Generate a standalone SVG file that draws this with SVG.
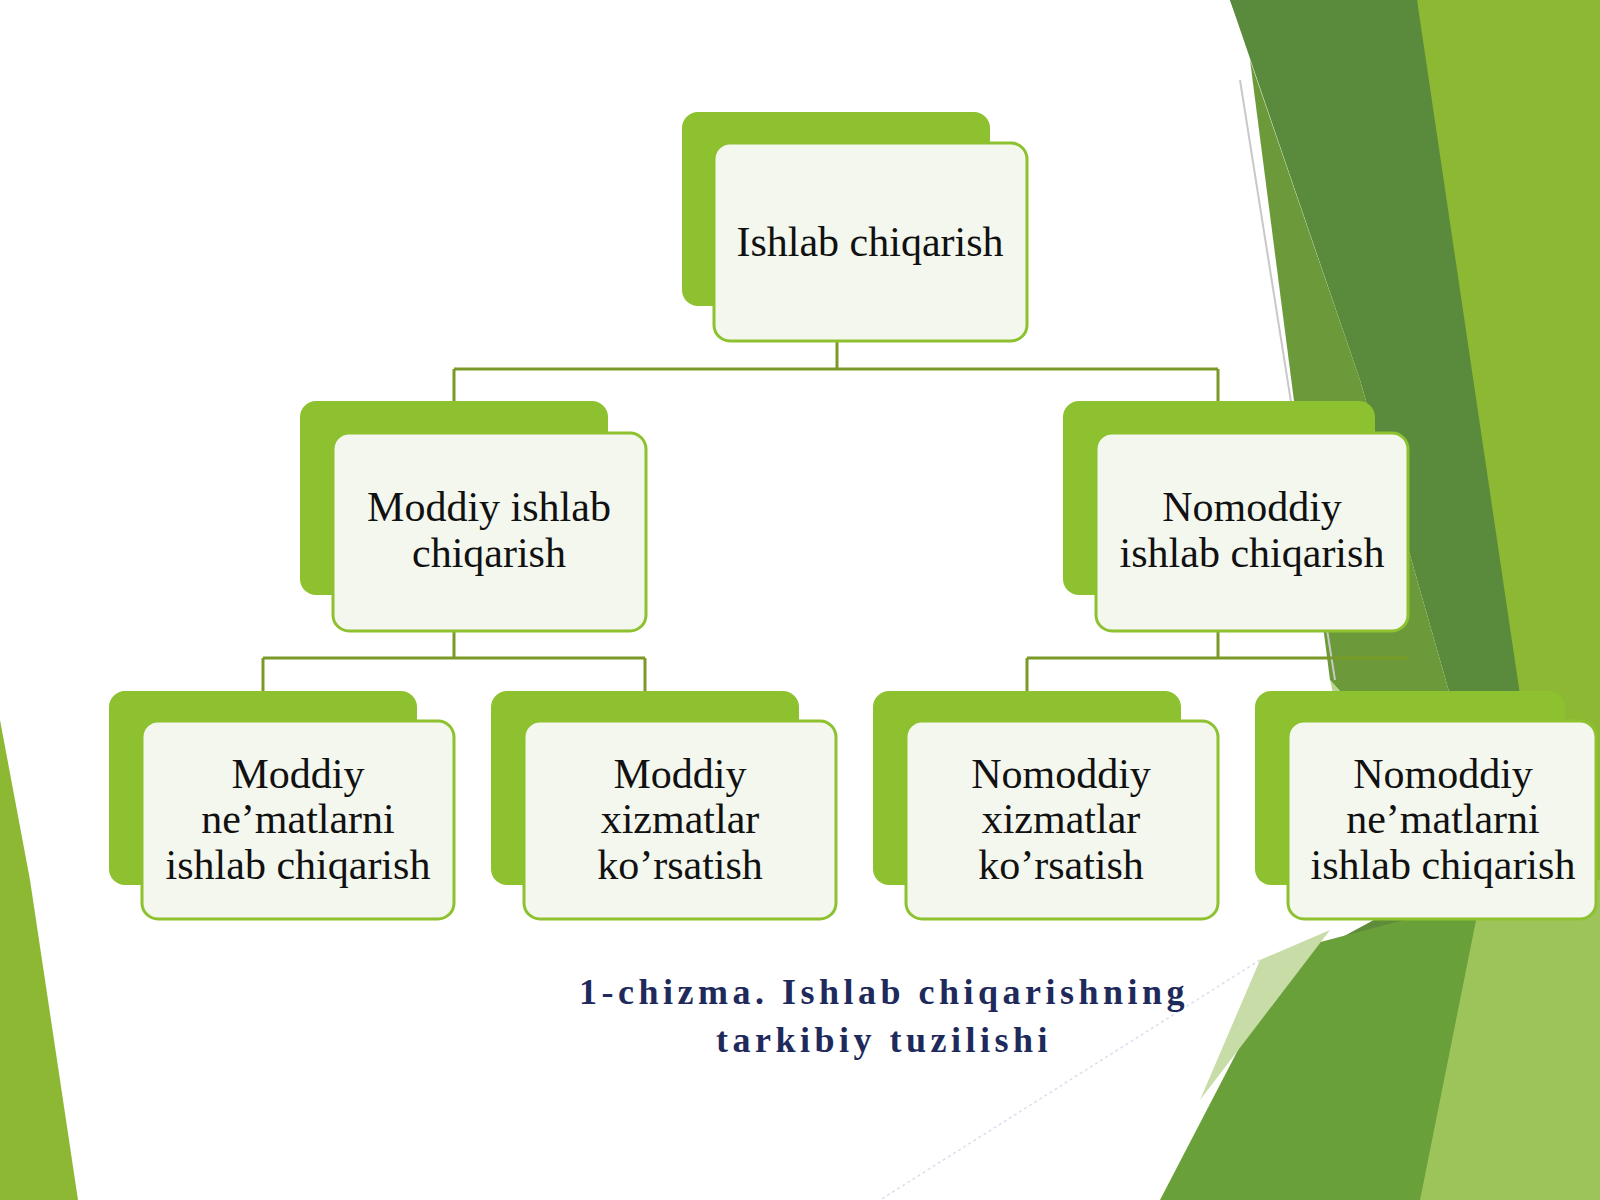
<svg xmlns="http://www.w3.org/2000/svg" width="1600" height="1200" viewBox="0 0 1600 1200">
<style>
.b{fill:#8dc12f}
.f{fill:#f4f7ee;stroke:#8dc12f;stroke-width:3}
.t{font-family:"Liberation Serif",serif;font-size:42px;fill:#111;text-anchor:middle}
.c{fill:none;stroke:#7a9a28;stroke-width:3}
.cap{font-family:"Liberation Serif",serif;font-size:36px;font-weight:bold;fill:#1f2a5c;text-anchor:middle;letter-spacing:4.5px}
</style>
<rect width="1600" height="1200" fill="#fff"/>
<g id="bg">
<polygon points="1230,0 1600,0 1600,1200 1180,1200 1300,960 1540,830" fill="#5e8c3a"/>
<polygon points="1417,0 1600,0 1600,1200 1500,1200 1500,870" fill="#8cb833"/>
<polygon points="1230,0 1417,0 1540,830 1500,870 1360,380" fill="#5a8a3c"/>
<polygon points="1250,60 1360,380 1500,870 1330,680" fill="#6c9a3a"/>
<polygon points="1330,680 1500,870 1380,900" fill="#b8d68a"/>
<polygon points="1290,950 1480,900 1420,1200 1160,1200" fill="#6aa03a"/>
<polygon points="1480,900 1600,880 1600,1200 1420,1200" fill="#9cc45a"/>
<polygon points="1260,960 1330,930 1200,1100" fill="#c8dca8"/>
<polygon points="0,720 30,880 78,1200 0,1200" fill="#8cb833"/>
<line x1="1240" y1="80" x2="1335" y2="680" stroke="#c8c8c8" stroke-width="2"/>
<line x1="1260" y1="960" x2="880" y2="1200" stroke="#dde" stroke-width="1.5" stroke-dasharray="3,3"/>
</g>
<g id="connectors">
<path class="c" d="M837 341V369M454 369H1218M454 369V401M1218 369V401"/>
<path class="c" d="M454 631V658M263 658H645M263 658V691M645 658V691"/>
<path class="c" d="M1218 631V658M1027 658H1408M1027 658V691"/>
</g>
<g id="n0"><rect class="b" x="682" y="112" width="308" height="194" rx="16"/><rect class="f" x="714" y="143" width="313" height="198" rx="16"/><text class="t" x="870" y="256">Ishlab chiqarish</text></g>
<g id="n1"><rect class="b" x="300" y="401" width="308" height="194" rx="16"/><rect class="f" x="333" y="433" width="313" height="198" rx="16"/><text class="t" x="489" y="521">Moddiy ishlab</text><text class="t" x="489" y="567">chiqarish</text></g>
<g id="n2"><rect class="b" x="1063" y="401" width="312" height="194" rx="16"/><rect class="f" x="1096" y="433" width="312" height="198" rx="16"/><text class="t" x="1252" y="521">Nomoddiy</text><text class="t" x="1252" y="567">ishlab chiqarish</text></g>
<g id="n3"><rect class="b" x="109" y="691" width="308" height="194" rx="16"/><rect class="f" x="142" y="721" width="312" height="198" rx="16"/><text class="t" x="298" y="788">Moddiy</text><text class="t" x="298" y="833">ne’matlarni</text><text class="t" x="298" y="879">ishlab chiqarish</text></g>
<g id="n4"><rect class="b" x="491" y="691" width="308" height="194" rx="16"/><rect class="f" x="524" y="721" width="312" height="198" rx="16"/><text class="t" x="680" y="788">Moddiy</text><text class="t" x="680" y="833">xizmatlar</text><text class="t" x="680" y="879">ko’rsatish</text></g>
<g id="n5"><rect class="b" x="873" y="691" width="308" height="194" rx="16"/><rect class="f" x="906" y="721" width="312" height="198" rx="16"/><text class="t" x="1061" y="788">Nomoddiy</text><text class="t" x="1061" y="833">xizmatlar</text><text class="t" x="1061" y="879">ko’rsatish</text></g>
<g id="n6"><rect class="b" x="1255" y="691" width="310" height="194" rx="16"/><rect class="f" x="1288" y="721" width="308" height="198" rx="16"/><text class="t" x="1443" y="788">Nomoddiy</text><text class="t" x="1443" y="833">ne’matlarni</text><text class="t" x="1443" y="879">ishlab chiqarish</text></g>
<g id="caption"><text class="cap" x="884" y="1004">1-chizma. Ishlab chiqarishning</text><text class="cap" x="884" y="1052">tarkibiy tuzilishi</text></g>
</svg>
